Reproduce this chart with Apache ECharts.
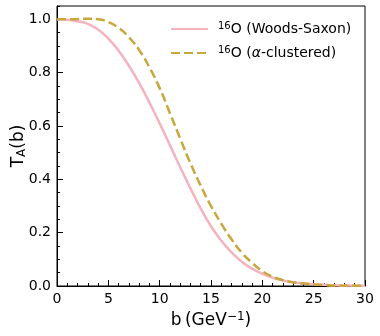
<!DOCTYPE html>
<html>
<head>
<meta charset="utf-8">
<script src="https://cdn.jsdelivr.net/npm/echarts@6/dist/echarts.min.js"></script>
<style>
  html, body { margin: 0; padding: 0; background: #fff; }
  #chart { width: 380px; height: 336px; }
</style>
</head>
<body>
<div id="chart"></div>
<script>
  // impact parameter b (GeV^-1)
  const bValues = [0, 1, 2, 3, 4, 5, 6, 7, 8, 9, 10, 11, 12, 13, 14, 15,
    16, 17, 18, 19, 20, 21, 22, 23, 24, 25, 26, 27, 28, 29, 30]
  // 16O Woods-Saxon
  const woodsSaxon = [1.0, 0.998, 0.993, 0.983, 0.962, 0.928, 0.882, 0.826, 0.762, 0.688, 0.61,
    0.528, 0.445, 0.366, 0.29, 0.224, 0.17, 0.126, 0.091, 0.065, 0.046,
    0.031, 0.021, 0.014, 0.01, 0.007, 0.005, 0.003, 0.002, 0.001, 0.001]
  // 16O alpha-clustered
  const alphaClustered = [1.0, 1.0, 1.001, 1.002, 1.0, 0.99, 0.968, 0.933, 0.885, 0.82, 0.742,
    0.648, 0.553, 0.46, 0.376, 0.3, 0.234, 0.175, 0.125, 0.087, 0.056,
    0.035, 0.022, 0.014, 0.009, 0.006, 0.004, 0.002, 0.001, 0.001, 0.0]
  const yMajorTicks = [0, 0.2, 0.4, 0.6, 0.8, 1.0]

  const font = 'DejaVu Sans'
  const chart = echarts.init(document.getElementById('chart'))

  const pair = (ys) => bValues.map((b, i) => [b, ys[i]])

  chart.setOption({
    animation: false,
    backgroundColor: '#fff',
    textStyle: { fontFamily: font },
    grid: {
      left: 57, right: 15, top: 6, bottom: 50,
      outerBoundsMode: 'none',
      containLabel: false,
      show: true, borderColor: '#000', borderWidth: 1
    },
    legend: {
      orient: 'vertical',
      left: 165,
      top: 16,
      itemWidth: 37,
      itemHeight: 14,
      itemGap: 9,
      itemStyle: { opacity: 0 },
      textStyle: {
        fontFamily: font, fontSize: 14, color: '#000',
        padding: [0, 0, 0, 5],
        rich: {
          sup: { fontFamily: font, fontSize: 10, color: '#000', padding: [0, 0, 6, 0] },
          n: { fontFamily: font, fontSize: 14, color: '#000' },
          it: { fontFamily: font, fontSize: 14, color: '#000', fontStyle: 'italic' }
        }
      },
      formatter: function (name) {
        if (name === 'ws') return '{sup|16}{n|O (Woods-Saxon)}'
        return '{sup|16}{n|O (}{it|α}{n|-clustered)}'
      },
      data: ['ws', 'alpha']
    },
    xAxis: {
      type: 'value',
      min: 0, max: 30, interval: 5,
      name: '{n|b\u2009(GeV}{sup|−1}{n|)}',
      nameLocation: 'middle',
      nameGap: 25,
      nameTextStyle: {
        rich: {
          n: { fontFamily: font, fontSize: 17, color: '#000' },
          sup: { fontFamily: font, fontSize: 12, color: '#000', padding: [0, 0, 8, 0] }
        }
      },
      axisLine: { lineStyle: { color: '#000', width: 1 } },
      axisTick: { inside: true, length: 6, lineStyle: { color: '#000' } },
      minorTick: { show: true, splitNumber: 5, length: 3, lineStyle: { color: '#000' } },
      axisLabel: { fontFamily: font, fontSize: 14, color: '#000', margin: 6 },
      splitLine: { show: false },
      minorSplitLine: { show: false }
    },
    yAxis: [{
      type: 'value',
      min: 0, max: 1.05,
      name: '{n|T}{sub|A}{n|(b)}',
      nameLocation: 'middle',
      nameGap: 29,
      nameMoveOverlap: false,
      nameRotate: 90,
      nameTextStyle: {
        rich: {
          n: { fontFamily: font, fontSize: 17, color: '#000' },
          sub: { fontFamily: font, fontSize: 12, color: '#000', padding: [6, 0, 0, 0] }
        }
      },
      axisLine: { lineStyle: { color: '#000', width: 1 } },
      axisTick: { inside: true, length: 6, customValues: yMajorTicks, lineStyle: { color: '#000' } },
      axisLabel: {
        fontFamily: font, fontSize: 14, color: '#000', margin: 6,
        customValues: yMajorTicks,
        formatter: (v) => v.toFixed(1)
      },
      splitLine: { show: false }
    }, {
      // minor ticks every 0.05
      type: 'value',
      position: 'left',
      min: 0, max: 1.05, interval: 0.05,
      axisLine: { show: false },
      axisTick: { show: true, inside: true, length: 3, lineStyle: { color: '#000' } },
      axisLabel: { show: false },
      splitLine: { show: false }
    }],
    series: [
      {
        name: 'ws',
        type: 'line',
        smooth: true,
        symbol: 'none',
        lineStyle: { color: '#f4b3be', width: 2.5 },
        itemStyle: { color: '#f4b3be' },
        data: pair(woodsSaxon),
        z: 2
      },
      {
        name: 'alpha',
        type: 'line',
        smooth: true,
        symbol: 'none',
        lineStyle: { color: '#c8a83c', width: 2.5, type: [9, 4] },
        itemStyle: { color: '#c8a83c' },
        data: pair(alphaClustered),
        z: 3
      }
    ]
  })
</script>
</body>
</html>
